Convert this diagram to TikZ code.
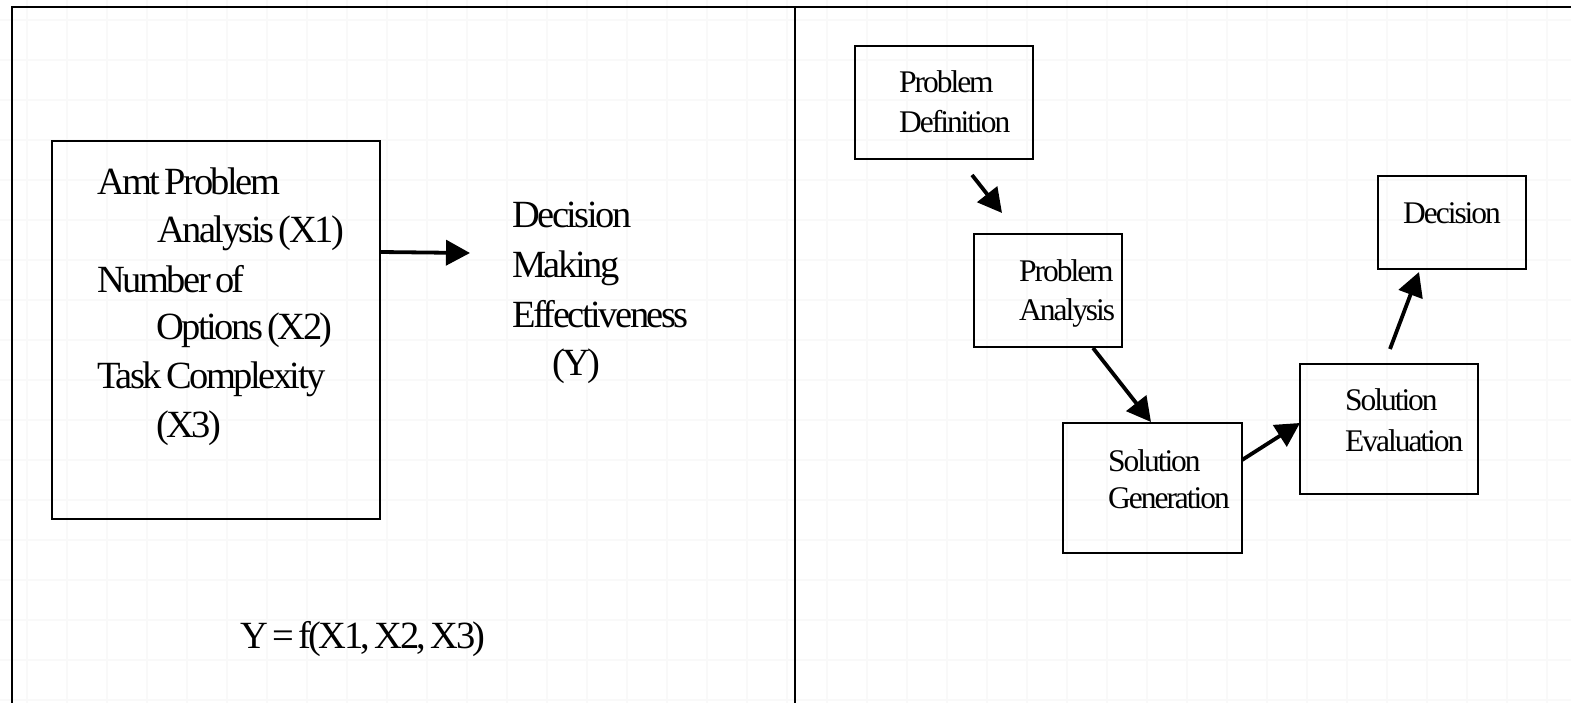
\documentclass[tikz,border=0pt]{standalone}
\usepackage{fontspec}
\setmainfont{Liberation Serif}[LetterSpace=-6.5,WordSpace=0.6]
\usetikzlibrary{arrows.meta}
\tikzset{
  gridst/.style={draw=black!2.5, line width=1.5pt},
  framest/.style={line width=2pt, line cap=rect},
  boxst/.style={draw, line width=2pt, rectangle, inner sep=0pt},
  bigtxt/.style={anchor=base west, inner sep=0pt, font=\fontsize{38.5}{46}\selectfont},
  smalltxt/.style={anchor=base west, inner sep=0pt, font=\fontsize{31.5}{38}\selectfont},
  arr/.style={line width=3.8pt, -{Triangle[length=24pt,width=25pt]}},
}
\begin{document}
\begin{tikzpicture}[x=1pt,y=-1pt]
\useasboundingbox (0,0) rectangle (1571,703);
% faint background grid
\foreach \x in {27,67,...,1571} \draw[gridst] (\x,0) -- (\x,703);
\foreach \y in {20,60,...,703} \draw[gridst] (0,\y) -- (1571,\y);
% frame
\draw[framest] (12,703) -- (12,7.5) -- (1571,7.5);
\draw[framest] (795,7.5) -- (795,703);

% ---------- left panel ----------
\node[boxst, minimum width=328pt, minimum height=378pt] (lbox) at (216,330) {};
\node[bigtxt] (l1) at (97,195) {Amt Problem};
\node[bigtxt] (l2) at (157,243) {Analysis (X1)};
\node[bigtxt] (l3) at (97,293) {Number of};
\node[bigtxt] (l4) at (156,339) {Options (X2)};
\node[bigtxt] (l5) at (97,388) {Task Complexity};
\node[bigtxt] (l6) at (156,437) {(X3)};

\node[bigtxt] (y1) at (512,228) {Decision};
\node[bigtxt] (y2) at (512,278) {Making};
\node[bigtxt] (y3) at (512,327) {Effectiveness};
\node[bigtxt] (y4) at (552,375) {(Y)};

\node[bigtxt] (fx) at (240,648) {Y = f(X1, X2, X3)};

\coordinate (a1s) at (380,252);
\coordinate (a1e) at (470,253);
\draw[arr] (a1s) -- (a1e);

% ---------- right panel ----------
\node[boxst, minimum width=178pt, minimum height=113pt] (pd) at (944,102.5) {};
\node[smalltxt] (pd1) at (899,93) {Problem};
\node[smalltxt] (pd2) at (899,133) {Definition};

\node[boxst, minimum width=148pt, minimum height=113pt] (pa) at (1048,290.5) {};
\node[smalltxt] (pa1) at (1019,282) {Problem};
\node[smalltxt] (pa2) at (1019,320) {Analysis};

\node[boxst, minimum width=179pt, minimum height=130pt] (sg) at (1152.5,488) {};
\node[smalltxt] (sg1) at (1108,471) {Solution};
\node[smalltxt] (sg2) at (1108,508) {Generation};

\node[boxst, minimum width=178pt, minimum height=130pt] (se) at (1389,429) {};
\node[smalltxt] (se1) at (1345,410) {Solution};
\node[smalltxt] (se2) at (1345,451) {Evaluation};

\node[boxst, minimum width=148pt, minimum height=93pt] (dc) at (1452,222.5) {};
\node[smalltxt] (dc1) at (1403,224) {Decision};

\coordinate (b1s) at (972,175);
\coordinate (b1e) at (1002,213);
\draw[arr] (b1s) -- (b1e);
\coordinate (b2s) at (1093,348);
\coordinate (b2e) at (1151,422);
\draw[arr] (b2s) -- (b2e);
\coordinate (b3s) at (1242,460);
\coordinate (b3e) at (1300,423);
\draw[arr] (b3s) -- (b3e);
\coordinate (b4s) at (1390,349);
\coordinate (b4e) at (1419,272);
\draw[arr] (b4s) -- (b4e);
\end{tikzpicture}
\end{document}
